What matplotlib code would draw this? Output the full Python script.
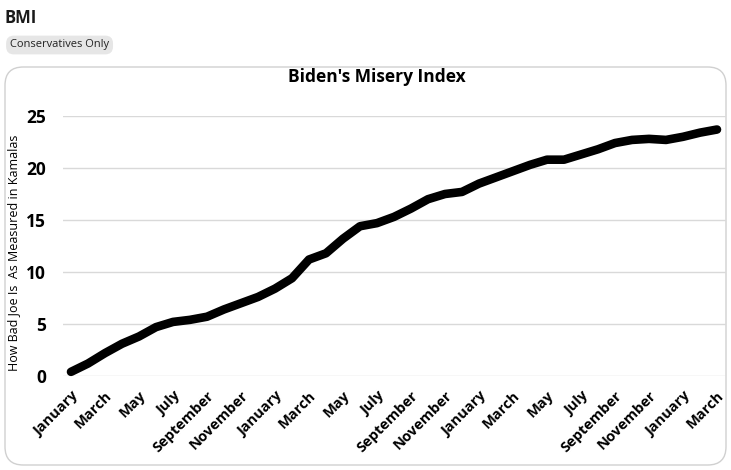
import numpy as np
import matplotlib.pyplot as plt
from matplotlib.patches import FancyBboxPatch

# monthly values, Jan 2021 .. Mar 2024
months = ['January', 'February', 'March', 'April', 'May', 'June', 'July',
          'August', 'September', 'October', 'November', 'December']
labels = [months[k % 12] for k in range(39)]
values = [0.4, 1.2, 2.2, 3.1, 3.8, 4.7, 5.2, 5.4, 5.7, 6.4,
          7.0, 7.6, 8.4, 9.4, 11.2, 11.8, 13.2, 14.4, 14.7, 15.3,
          16.1, 17.0, 17.5, 17.7, 18.5, 19.1, 19.7, 20.3, 20.8, 20.8,
          21.3, 21.8, 22.4, 22.7, 22.8, 22.7, 23.0, 23.4, 23.7]
yticks = [0, 5, 10, 15, 20, 25]

W, H = 731, 470
fig = plt.figure(figsize=(W/100, H/100), dpi=100)
fig.patch.set_facecolor('white')

# header
fig.text(5/W, 1-18/H, 'BMI', fontsize=12, family='Open Sans', weight='bold',
         va='center', ha='left', color='#1a1a1a')
fig.text(10/W, 1-45/H, 'Conservatives Only', fontsize=8, family='Open Sans',
         va='center', ha='left', color='#222222',
         bbox=dict(boxstyle='round,pad=0.35,rounding_size=0.7', fc='#e6e6e6', ec='none'))

# chart frame
box = FancyBboxPatch((5/W, 1-465/H), 721/W, 398/H, transform=fig.transFigure,
                     boxstyle='round,pad=0,rounding_size=0.025', fc='white',
                     ec='#d0d0d0', lw=1, mutation_aspect=W/H, zorder=-1)
fig.patches.append(box)

ax = fig.add_axes([62.5/W, 1-376/H, 663/W, 260/H])
ax.set_zorder(2)
ax.set_facecolor('none')
x = np.arange(len(values))
ax.plot(x, values, color='black', lw=6.2, solid_capstyle='round',
        solid_joinstyle='round', clip_on=False, zorder=3)
ax.set_xlim(-0.5, len(values)-0.5)
ax.set_ylim(0, 25)
ax.set_yticks(yticks)
ax.set_yticklabels([str(v) for v in yticks], family='Open Sans', weight='bold', fontsize=12.5)
ax.set_xticks(x[::2])
ax.set_xticklabels(labels[::2], rotation=45, ha='right', va='top',
                   rotation_mode='anchor', family='Open Sans', weight='bold', fontsize=10.5)
ax.tick_params(axis='y', length=0, pad=12)
ax.tick_params(axis='x', length=0, pad=9)
ax.grid(axis='y', color='#d9d9d9', lw=1)
ax.set_axisbelow(True)
for s in ax.spines.values():
    s.set_visible(False)

fig.text(377/W, 1-77/H, "Biden's Misery Index", fontsize=12.5, family='Open Sans',
         weight='bold', ha='center', va='center')
fig.text(14/W, 1-253/H, 'How Bad Joe Is  As Measured in Kamalas', fontsize=9,
         family='Open Sans', rotation=90, ha='center', va='center', color='black')

fig.savefig('out.png', dpi=100)
